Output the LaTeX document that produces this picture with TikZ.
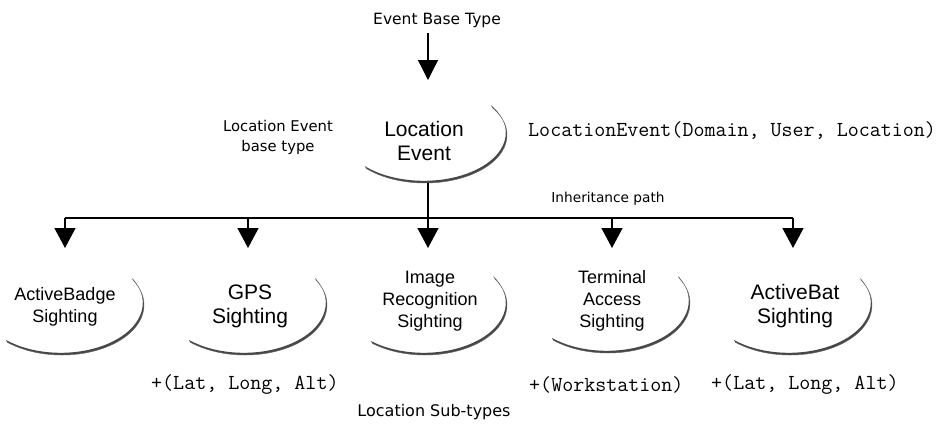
\documentclass[tikz,border=0pt]{standalone}
\usepackage{fontspec}
\setmainfont{Liberation Sans}
\newfontfamily\lblfont{DejaVu Sans}
\usetikzlibrary{arrows.meta}
\newcommand{\shellarc}[5]{%
  \fill[black!72] (#1) ++(#4:#2 and #3) arc[start angle=#4,end angle=#5,x radius=#2,y radius=#3]
     -- ++(-1.2,-2.2) arc[start angle=#5,end angle=#4,x radius=#2,y radius=#3] -- cycle;
  \draw[black!60,line width=0.45pt] (#1) ++(#4:#2 and #3) arc[start angle=#4,end angle=#5,x radius=#2,y radius=#3];
}
\begin{document}
\begin{tikzpicture}[x=1pt,y=-1pt,
  lbl/.style={inner sep=0pt, align=center},
  big/.style={font=\fontsize{21}{24}\selectfont, inner sep=0pt, align=center},
  small/.style={font=\fontsize{18}{22}\selectfont, inner sep=0pt, align=center},
  code/.style={font=\ttfamily\fontsize{21.4}{22}\selectfont, inner sep=0pt, anchor=west},
  conn/.style={line width=1.3pt, -{Triangle[length=20pt,width=21pt]}},
  bus/.style={line width=1.3pt}
]
\useasboundingbox (0,0) rectangle (941,426);

% labels
\node[lbl, font=\lblfont\fontsize{15.5}{18}\selectfont] (ebt) at (437,20) {Event Base Type};
\node[lbl, font=\lblfont\fontsize{14.8}{20}\selectfont] (leb) at (278,137) {Location Event\\base type};
\node[code] (lesig) at (528,131) {LocationEvent(Domain, User, Location)};
\node[lbl, font=\lblfont\fontsize{13.7}{16}\selectfont] (inh) at (608,199) {Inheritance path};
\node[lbl, font=\lblfont\fontsize{16}{18}\selectfont] (sub) at (434,412) {Location Sub-types};
\node[code] (gpsx) at (151,385) {+(Lat, Long, Alt)};
\node[code] (tax) at (529,385) {+(Workstation)};
\node[code] (batx) at (711,385) {+(Lat, Long, Alt)};

% ellipse centres
\coordinate (leC) at (425,135);
\coordinate (abC) at (62,305);
\coordinate (gpsC) at (245,305);
\coordinate (irC) at (425,305);
\coordinate (taC) at (608,303);
\coordinate (batC) at (790,305);

\shellarc{leC}{82}{48}{136}{-35}
\shellarc{abC}{82}{50}{132}{-30}
\shellarc{gpsC}{82}{50}{132}{-30}
\shellarc{irC}{82}{50}{130}{-32}
\shellarc{taC}{82}{50}{132}{-30}
\shellarc{batC}{82}{50}{132}{-30}

% ellipse texts
\node[big] (le) at (424,141) {Location\\Event};
\node[small] (ab) at (65,307) {ActiveBadge\\Sighting};
\node[big] (gps) at (250,306) {GPS\\Sighting};
\node[small] (ir) at (430,301) {Image\\Recognition\\Sighting};
\node[small] (ta) at (612,301) {Terminal\\Access\\Sighting};
\node[big] (bat) at (795,306) {ActiveBat\\Sighting};

% connectors
\coordinate (leTip) at (428,80);
\coordinate (ebtFoot) at (428,33);
\draw[line width=1.3pt, -{Triangle[length=20pt,width=20pt]}] (ebtFoot) -- (leTip);

\coordinate (trunkTop) at (428,183);
\coordinate (busMid) at (428,218);
\coordinate (abTip) at (65,248);
\coordinate (gpsTip) at (248,248);
\coordinate (irTip) at (428,248);
\coordinate (taTip) at (612,248);
\coordinate (batTip) at (793,248);

\draw[bus] (trunkTop) -- (busMid);
\draw[bus] (abTip |- busMid) -- (batTip |- busMid);
\draw[conn] (abTip |- busMid) -- (abTip);
\draw[conn] (gpsTip |- busMid) -- (gpsTip);
\draw[conn] (busMid) -- (irTip);
\draw[conn] (taTip |- busMid) -- (taTip);
\draw[conn] (batTip |- busMid) -- (batTip);
\end{tikzpicture}
\end{document}
